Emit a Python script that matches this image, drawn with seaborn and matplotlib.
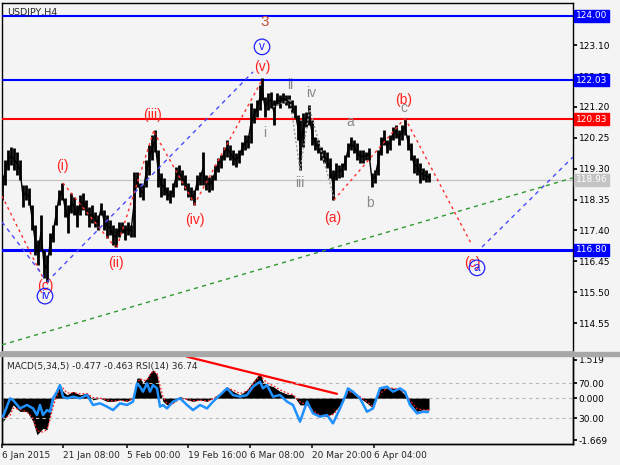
import matplotlib
matplotlib.use("Agg")
import matplotlib.pyplot as plt
import matplotlib.transforms as mtransforms
from matplotlib.patches import Rectangle
import seaborn as sns
import pandas as pd

# --- price bars (bar position, high, low) ---
bar_pos = [2, 5, 8, 11, 14, 17, 20, 23, 26, 29, 32, 35, 38, 41, 44, 47, 50, 53, 56, 59,
           62, 65, 68, 71, 74, 77, 80, 83, 86, 89, 92, 95, 98, 101, 104, 107, 110, 113, 116, 119,
           122, 125, 128, 131, 134, 137, 140, 143, 146, 149, 152, 155, 158, 161, 164, 167, 170, 173, 176, 179,
           182, 185, 188, 191, 194, 197, 200, 203, 206, 209, 212, 215, 218, 221, 224, 227, 230, 233, 236, 239,
           242, 245, 248, 251, 254, 257, 260, 262, 265, 268, 271, 274, 277, 280, 283, 286, 289, 292, 295, 298,
           300, 303, 306, 309, 312, 315, 318, 321, 324, 327, 330, 333, 336, 339, 342, 345, 348, 351, 354, 357,
           360, 363, 366, 369, 372, 375, 378, 381, 384, 387, 390, 393, 396, 399, 402, 405, 408, 411, 414, 417,
           420, 423, 426, 429]
bar_high = [119.11, 119.57, 119.88, 119.97, 119.94, 119.82, 119.57, 118.80, 118.80, 118.71,
            118.18, 117.57, 117.11, 117.88, 116.80, 116.65, 117.32, 117.57, 118.18, 118.65,
            118.86, 118.40, 118.18, 118.55, 118.43, 118.18, 118.49, 118.55, 118.34, 118.12,
            118.18, 117.97, 117.88, 118.25, 118.03, 117.88, 117.72, 117.57, 117.48, 117.66,
            117.66, 117.57, 117.66, 117.57, 119.20, 119.20, 118.86, 118.80, 119.57, 120.03,
            120.34, 120.49, 119.88, 119.17, 119.02, 118.74, 118.65, 118.86, 119.35, 119.42,
            119.26, 119.11, 118.86, 118.74, 118.65, 119.11, 119.20, 119.82, 119.11, 119.05,
            119.11, 119.42, 119.63, 119.72, 119.97, 120.18, 120.03, 119.88, 119.78, 119.88,
            120.12, 120.34, 120.34, 121.32, 121.17, 121.42, 121.88, 122.09, 121.51, 121.63,
            121.66, 121.42, 121.63, 121.57, 121.63, 121.57, 121.57, 121.42, 121.26, 120.95,
            120.80, 121.02, 121.05, 121.26, 120.80, 120.28, 120.18, 119.97, 119.88, 119.82,
            119.63, 119.26, 119.48, 119.42, 119.48, 119.72, 120.09, 120.28, 120.18, 120.09,
            119.88, 119.88, 119.82, 119.94, 119.17, 119.26, 119.88, 120.28, 120.49, 120.18,
            120.34, 120.58, 120.65, 120.49, 120.65, 120.86, 120.34, 120.09, 119.72, 119.63,
            119.48, 119.32, 119.26, 119.17]
bar_low = [118.34, 118.80, 119.26, 119.42, 119.26, 119.11, 118.95, 118.12, 118.34, 118.18,
           117.42, 116.65, 116.34, 116.80, 115.94, 115.82, 116.65, 117.05, 117.57, 118.18,
           118.34, 117.82, 117.32, 117.94, 117.88, 117.51, 117.88, 118.03, 117.88, 117.51,
           117.63, 117.51, 117.42, 117.88, 117.42, 117.17, 117.26, 116.95, 116.89, 117.20,
           117.32, 117.11, 117.26, 117.20, 117.20, 118.74, 118.43, 118.34, 118.74, 119.11,
           119.57, 119.82, 118.74, 118.43, 118.49, 118.34, 118.25, 118.43, 118.74, 118.95,
           118.80, 118.65, 118.43, 118.34, 118.18, 118.65, 118.80, 118.80, 118.65, 118.58,
           118.65, 118.95, 119.20, 119.32, 119.57, 119.66, 119.57, 119.42, 119.35, 119.48,
           119.72, 119.88, 119.94, 120.09, 120.71, 120.89, 121.11, 121.42, 120.89, 121.11,
           121.17, 120.65, 121.26, 121.17, 121.32, 121.26, 121.17, 121.02, 120.86, 120.18,
           119.26, 119.97, 120.58, 120.65, 120.03, 119.88, 119.78, 119.57, 119.48, 119.32,
           119.02, 118.34, 118.95, 119.02, 119.05, 119.26, 119.66, 119.88, 119.78, 119.57,
           119.48, 119.48, 119.57, 119.57, 118.74, 118.86, 119.11, 119.72, 120.03, 119.78,
           119.88, 120.18, 120.25, 120.03, 120.18, 120.34, 119.88, 119.57, 119.17, 119.11,
           118.86, 118.95, 118.89, 118.89]

# --- MACD(5,34,5) histogram and signal ---
macd_pos = [3, 10, 13, 20, 27, 33, 37, 43, 47, 50, 53, 57, 60, 63, 67, 73, 80, 87, 93, 100,
            107, 113, 120, 127, 133, 137, 140, 143, 147, 150, 153, 157, 160, 163, 167, 173, 180, 187, 193, 200,
            207, 213, 220, 227, 233, 240, 247, 253, 260, 263, 267, 273, 280, 287, 293, 300, 307, 313, 320, 327,
            333, 340, 345, 348, 353, 360, 367, 373, 380, 387, 393, 400, 405, 410, 417, 423, 429]
macd_hist = [-0.93, -0.53, -0.27, -0.53, -0.53, -0.93, -1.46, -1.20, -1.26, -0.66,
             -0.13, 0.27, 0.53, 0.27, 0.13, 0.27, 0.13, 0.20, -0.07, 0.00,
             -0.13, -0.13, -0.07, -0.13, 0.00, 0.80, 0.80, 0.60, 0.80, 1.00,
             1.13, 0.93, 0.27, -0.13, -0.27, -0.20, 0.07, -0.07, -0.13, -0.07,
             -0.13, 0.00, 0.20, 0.46, 0.27, 0.13, 0.33, 0.66, 1.00, 0.66,
             0.53, 0.46, 0.27, 0.16, 0.13, -0.27, -0.27, -0.60, -0.73, -0.73,
             -0.60, -0.27, 0.13, 0.33, 0.20, 0.00, -0.20, -0.40, 0.40, 0.40,
             0.40, 0.33, 0.13, -0.20, -0.53, -0.46, -0.477]
macd_signal = [-0.80, -0.70, -0.40, -0.45, -0.55, -0.80, -1.30, -1.35, -1.25, -0.85,
               -0.35, 0.10, 0.40, 0.40, 0.20, 0.22, 0.17, 0.18, 0.02, 0.00,
               -0.08, -0.12, -0.09, -0.11, -0.04, 0.55, 0.78, 0.70, 0.72, 0.92,
               1.08, 1.00, 0.50, 0.05, -0.22, -0.22, -0.02, -0.05, -0.10, -0.08,
               -0.11, -0.03, 0.14, 0.38, 0.33, 0.18, 0.28, 0.55, 0.90, 0.78,
               0.60, 0.50, 0.33, 0.20, 0.14, -0.15, -0.27, -0.50, -0.68, -0.73,
               -0.65, -0.38, 0.00, 0.25, 0.24, 0.06, -0.14, -0.34, 0.20, 0.38,
               0.40, 0.35, 0.20, -0.10, -0.42, -0.47, -0.463]

# --- RSI(14) ---
rsi_pos = [3, 10, 13, 20, 27, 33, 37, 40, 43, 47, 50, 53, 57, 60, 63, 67, 73, 80, 87, 93,
           100, 107, 113, 120, 127, 133, 137, 140, 143, 147, 150, 153, 157, 160, 163, 167, 173, 180, 187, 193,
           200, 207, 213, 220, 227, 233, 240, 247, 253, 260, 263, 267, 273, 280, 287, 293, 300, 307, 313, 320,
           327, 333, 340, 345, 348, 353, 360, 367, 373, 380, 387, 393, 400, 405, 410, 417, 423, 428]
rsi_vals = [31.5, 52.5, 50.6, 41.0, 44.9, 41.0, 33.4, 44.9, 33.4, 39.1,
            37.2, 52.5, 60.1, 67.7, 54.4, 52.5, 54.4, 52.5, 56.3, 44.9,
            46.8, 43.0, 39.1, 46.8, 44.9, 48.7, 69.6, 65.8, 60.1, 69.6,
            60.1, 67.7, 63.9, 43.0, 44.9, 41.0, 48.7, 52.5, 44.9, 39.1,
            44.9, 41.0, 48.7, 56.3, 63.9, 56.3, 54.4, 56.3, 65.8, 71.5,
            63.9, 67.7, 54.4, 56.3, 48.7, 44.9, 25.8, 48.7, 35.3, 31.5,
            33.4, 23.9, 41.0, 54.4, 63.9, 60.1, 52.5, 37.2, 41.0, 63.9,
            65.8, 60.1, 63.9, 60.1, 44.9, 35.3, 37.2, 36.74]

# --- horizontal levels ---
level_vals = [124.00, 122.03, 120.83, 116.80]
level_cols = ['#0000ff', '#0000ff', '#ff0000', '#0000ff']
level_widths = [1.5, 1.5, 1.5, 2.2]
last_price = 118.96
price_ticks = [123.10, 122.15, 121.20, 120.25, 119.30, 118.35, 117.40, 116.45, 115.50, 114.55]

# --- wave lines (x0, p0, x1, p1) ---
red_waves = [(2, 118.46, 44, 115.88), (63, 118.86, 115, 116.89), (117, 116.89, 154, 120.49),
             (154, 120.43, 194, 118.25), (194, 118.18, 262, 122.03), (334, 118.34, 405, 120.86),
             (405, 120.86, 472, 116.95)]
blue_waves = [(2, 117.66, 44, 115.97), (47, 115.82, 253, 122.28), (482, 116.89, 573, 119.66)]
grey_waves = [(273, 121.2, 290, 121.42), (290, 121.42, 300, 119.26), (300, 119.26, 310, 121.2),
              (310, 121.11, 334, 118.4)]
green_trend = (2, 113.88, 573, 119.02)

# --- wave labels (text, x, price) ---
red_labels = [('(iii)', 152, 120.95), ('(i)', 62, 119.38), ('(ii)', 116, 116.40),
              ('(iv)', 195, 117.72), ('(v)', 262, 122.43), ('(c)', 45, 115.69),
              ('(a)', 333, 117.78), ('(b)', 404, 121.42), ('(c)', 472, 116.40)]
grey_labels = [('i', 265, 120.40), ('ii', 290, 121.88), ('iii', 300, 118.86), ('iv', 311, 121.63),
               ('a', 350, 120.74), ('b', 370, 118.25), ('c', 404, 121.18)]
circle_labels = [('v', 262, 123.05), ('iv', 45, 115.38), ('a', 477, 116.25)]

date_pos = [2, 63, 127, 188, 250, 312, 374]
date_labels = ['6 Jan 2015', '21 Jan 08:00', '5 Feb 00:00', '19 Feb 16:00',
               '6 Mar 08:00', '20 Mar 20:00', '6 Apr 04:00']

BG = '#f4f4f4'
sns.set_theme(style='white')
plt.rcParams['font.family'] = ['DejaVu Sans']

fig = plt.figure(figsize=(6.2, 4.65), dpi=100, facecolor=BG)
ax = fig.add_axes([2 / 620, 1 - 352 / 465, 571 / 620, 349 / 465], facecolor=BG)
axm = fig.add_axes([2 / 620, 1 - 444 / 465, 571 / 620, 88 / 465], facecolor=BG)
fig.patches.append(Rectangle((0, 1 - 356 / 465), 1, 4 / 465, transform=fig.transFigure,
                             color='#a8a8a8', zorder=0))

# price bars
ax.vlines(bar_pos, bar_low, bar_high, color='black', lw=2.0, zorder=4)
mid = [(h + l) / 2 for h, l in zip(bar_high, bar_low)]
sns.lineplot(x=bar_pos, y=mid, ax=ax, color='black', lw=1.0, zorder=4)

# levels
for v, c, w in zip(level_vals, level_cols, level_widths):
    ax.axhline(v, color=c, lw=w, zorder=3)
ax.axhline(last_price, color='#c4c4c4', lw=0.9, zorder=2)

for x0, p0, x1, p1 in red_waves:
    ax.plot([x0, x1], [p0, p1], color='#ff3030', lw=1.0, ls=(0, (2, 2.5)), zorder=5)
for x0, p0, x1, p1 in blue_waves:
    ax.plot([x0, x1], [p0, p1], color='#4a4aff', lw=1.0, ls=(0, (3, 3)), zorder=5)
for x0, p0, x1, p1 in grey_waves:
    ax.plot([x0, x1], [p0, p1], color='#9a9a9a', lw=1.0, ls=(0, (1.5, 1.5)), zorder=5)
x0, p0, x1, p1 = green_trend
ax.plot([x0, x1], [p0, p1], color='#2f9a2f', lw=1.0, ls=(0, (3, 3)), zorder=5)

for t, x, p in red_labels:
    ax.text(x, p, t, color='#ff2020', fontsize=10, ha='center', va='center',
            family='Liberation Sans', zorder=6)
for t, x, p in grey_labels:
    ax.text(x, p, t, color='#8a8a8a', fontsize=10, ha='center', va='center',
            family='Liberation Sans', zorder=6)
for t, x, p in circle_labels:
    ax.text(x, p, t, color='#2020ff', fontsize=8.5, ha='center', va='center',
            family='Liberation Sans', zorder=6,
            bbox=dict(boxstyle='circle,pad=0.15', fc='none', ec='#2020ff', lw=0.9))
ax.text(265, 123.82, '3', color='#c8503c', fontsize=11, ha='center', va='center',
        family='Liberation Sans', zorder=6)
ax.text(0.009, 0.985, 'USDJPY,H4', transform=ax.transAxes, fontsize=6.8, va='top', ha='left')

ax.set_xlim(2, 573)
ax.set_ylim(113.66, 124.4)
ax.yaxis.tick_right()
ax.set_yticks(price_ticks)
ax.set_yticklabels([f'{v:.2f}' for v in price_ticks])
ax.tick_params(axis='y', direction='out', length=3, pad=1, labelsize=6.5, colors='black')
ax.tick_params(axis='x', bottom=False, labelbottom=False)

# boxed price labels on the right edge
tr = mtransforms.blended_transform_factory(ax.transAxes, ax.transData)
for v, c in zip(level_vals, level_cols):
    ax.text(1.005, v, f'{v:.2f}', transform=tr, fontsize=6.5, color='white', ha='left', va='center',
            zorder=10, clip_on=False,
            bbox=dict(boxstyle='square,pad=0.18', fc=c, ec=c))
ax.text(1.005, last_price, f'{last_price:.2f}', transform=tr, fontsize=6.5, color='white',
        ha='left', va='center', zorder=10, clip_on=False,
        bbox=dict(boxstyle='square,pad=0.18', fc='#c4c4c4', ec='#c4c4c4'))

for s in ['left', 'top', 'right']:
    ax.spines[s].set_color('black')
    ax.spines[s].set_linewidth(1.0)
ax.spines['bottom'].set_color('#a8a8a8')

# MACD / RSI panel
axm.fill_between(macd_pos, 0, macd_hist, color='black', lw=0, zorder=3)
axm.plot(macd_pos, macd_signal, color='#ff2020', lw=0.9, ls=(0, (1.5, 1.5)), zorder=4)
axm.axhline(0, color='#b8b8b8', lw=0.8, ls=(0, (3, 3)), zorder=1)
axm.plot([187, 337], [1.65, 0.17], color='#ff0000', lw=1.6, zorder=6)
axm.set_ylim(-1.828, 1.678)

axr = axm.twinx()
axr.set_ylim(0.3, 100.9)
axr.axhline(70, color='#b8b8b8', lw=0.8, ls=(0, (3, 3)), zorder=1)
axr.axhline(30, color='#b8b8b8', lw=0.8, ls=(0, (3, 3)), zorder=1)
rsi_df = pd.DataFrame({'pos': rsi_pos, 'rsi': rsi_vals})
sns.lineplot(data=rsi_df, x='pos', y='rsi', ax=axr, color='#1e90ff', lw=1.8, zorder=5)
axr.set_yticks([70, 30])
axr.set_yticklabels(['70.00', '30.00'])
axr.tick_params(axis='y', direction='out', length=3, pad=1, labelsize=6.5, colors='black')
axr.set_ylabel('')
axr.set_xlabel('')
axr.text(0.009, 0.93, 'MACD(5,34,5) -0.477 -0.463 RSI(14) 36.74', transform=axm.transAxes,
         fontsize=6.5, va='top', ha='left')

# MACD scale on the right as well (twinx moved it to the left)
axm.yaxis.tick_right()
axm.set_yticks([1.519, 0.0, -1.669])
axm.set_yticklabels(['1.519', '0.000', '-1.669'])
axm.tick_params(axis='y', direction='out', length=3, pad=1, labelsize=6.5, colors='black',
                left=False, labelleft=False, right=True, labelright=True)
axm.set_xlabel('')

axm.set_xticks(date_pos)
axm.set_xticklabels(date_labels, ha='left')
axm.tick_params(axis='x', direction='out', length=3, pad=2, labelsize=6.5, bottom=True)
for a in (axm, axr):
    for s in ['left', 'bottom', 'right']:
        a.spines[s].set_color('black')
        a.spines[s].set_linewidth(1.0)
    a.spines['top'].set_color('#a8a8a8')
axm.set_xlim(2, 573)
axr.set_xlim(2, 573)

fig.savefig('out.png', dpi=100, facecolor=BG)
